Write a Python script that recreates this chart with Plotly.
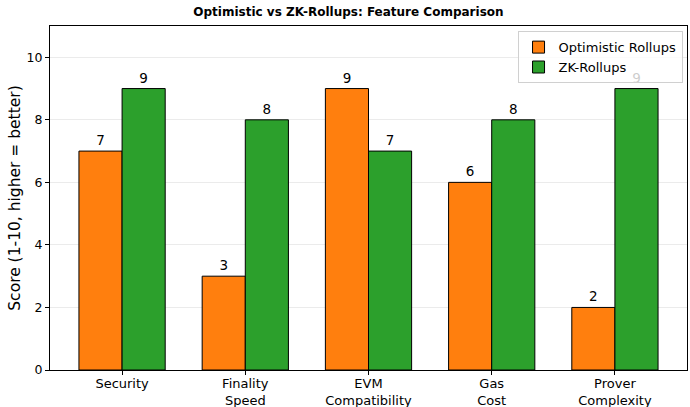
import plotly.graph_objects as go

categories = ["Security", "Finality<br>Speed", "EVM<br>Compatibility", "Gas<br>Cost", "Prover<br>Complexity"]
optimistic = [7, 3, 9, 6, 2]
zk = [9, 8, 7, 8, 9]

FONT = "DejaVu Sans"

fig = go.Figure()
fig.add_trace(go.Bar(
    x=categories, y=optimistic, name="Optimistic Rollups",
    marker=dict(color="#ff7f0e", line=dict(color="black", width=1)),
    text=optimistic, textposition="outside", textfont=dict(size=13.5, color="black", family=FONT),
    cliponaxis=False,
))
fig.add_trace(go.Bar(
    x=categories, y=zk, name="ZK-Rollups",
    marker=dict(color="#2ca02c", line=dict(color="black", width=1)),
    text=zk, textposition="outside", textfont=dict(size=13.5, color="black", family=FONT),
    cliponaxis=False,
))

fig.update_layout(
    width=690, height=407,
    barmode="group", bargap=0.3, bargroupgap=0,
    paper_bgcolor="white", plot_bgcolor="white",
    font=dict(family=FONT, size=13, color="black"),
    margin=dict(l=50, r=3, t=26, b=37, autoexpand=False),
    title=dict(text="<b>Optimistic vs ZK-Rollups: Feature Comparison</b>", x=0.505, xanchor="center",
               y=0.982, yanchor="top", font=dict(size=12, family=FONT)),
    legend=dict(x=0.993, y=0.985, xanchor="right", yanchor="top",
                bordercolor="#d0d0d0", borderwidth=1, bgcolor="rgba(255,255,255,0.8)",
                font=dict(size=13, family=FONT), tracegroupgap=0),
    xaxis=dict(
        showline=True, linecolor="black", linewidth=1, mirror=True,
        ticks="outside", ticklen=4, tickcolor="black", ticklabelstandoff=-3,
        tickfont=dict(size=13), range=[-0.585, 4.585], automargin=False,
    ),
    yaxis=dict(
        range=[0, 11], dtick=2, showline=True, linecolor="black", linewidth=1, mirror=True,
        ticks="outside", ticklen=4, tickcolor="black",
        showgrid=True, gridcolor="#ebebeb", gridwidth=1,
        title=dict(text="Score (1-10, higher = better)", font=dict(size=15.5), standoff=2),
        tickfont=dict(size=12.5), zeroline=False, automargin=False,
    ),
)

fig.write_html("out.html", config={"displayModeBar": False},
               post_script="document.body.style.margin='0';document.body.style.padding='0';")
